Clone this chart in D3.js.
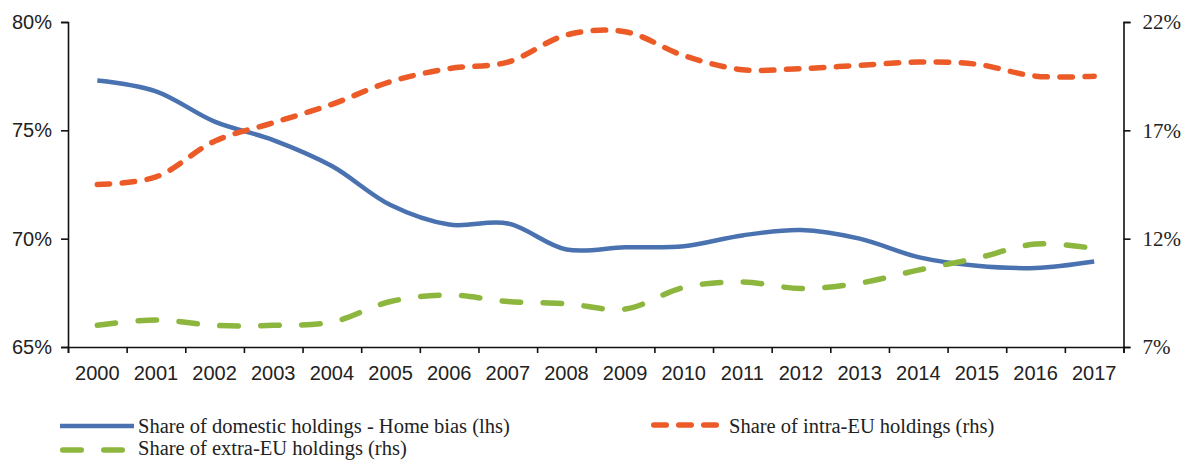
<!DOCTYPE html>
<html>
<head>
<meta charset="utf-8">
<script src="https://cdn.jsdelivr.net/npm/d3@7"></script>
<style>
  html, body { margin: 0; padding: 0; background: #fff; }
  svg { display: block; }
</style>
</head>
<body>
<svg id="chart" width="1185" height="460"></svg>
<script>
// ---- data ----
const years = ["2000","2001","2002","2003","2004","2005","2006","2007","2008","2009","2010","2011","2012","2013","2014","2015","2016","2017"];
const homeBias = [77.3, 76.8, 75.4, 74.55, 73.35, 71.55, 70.65, 70.7, 69.5, 69.6, 69.65, 70.15, 70.4, 70.0, 69.15, 68.75, 68.65, 68.95];
const intraEU  = [14.5, 14.85, 16.5, 17.35, 18.2, 19.25, 19.85, 20.15, 21.4, 21.55, 20.45, 19.8, 19.85, 20.0, 20.15, 20.05, 19.5, 19.5];
const extraEU  = [8.0, 8.25, 8.0, 8.0, 8.15, 9.1, 9.4, 9.1, 9.0, 8.75, 9.75, 10.0, 9.7, 9.95, 10.55, 11.1, 11.75, 11.55];
const leftTicks = [65, 70, 75, 80];
const rightTicks = [7, 12, 17, 22];
const legendLabels = [
  "Share of domestic holdings - Home bias (lhs)",
  "Share of intra-EU holdings (rhs)",
  "Share of extra-EU holdings (rhs)"
];

// ---- layout ----
const L = 68, R = 1123.5, T = 22, B = 347;
const svg = d3.select("#chart");

const x = d3.scaleBand().domain(years).range([L, R]).padding(0);
const xEdge = d3.scaleLinear().domain([0, years.length]).range([L, R]);
const yL = d3.scaleLinear().domain([65, 80]).range([B, T]);
const yR = d3.scaleLinear().domain([7, 22]).range([B, T]);

const sansFont = "'Liberation Sans', Arial, sans-serif";
const serifFont = "'Liberation Serif', 'Times New Roman', serif";

// left axis
const gL = svg.append("g").attr("transform", `translate(${L},0)`)
  .call(d3.axisLeft(yL).tickValues(leftTicks).tickSize(7).tickPadding(9).tickFormat(d => d + "%"));
gL.selectAll("text").attr("font-family", sansFont).attr("font-size", 20).attr("fill", "#222");

// right axis
const gR = svg.append("g").attr("transform", `translate(${R},0)`)
  .call(d3.axisRight(yR).tickValues(rightTicks).tickSize(7).tickPadding(12).tickFormat(d => d + "%"));
gR.selectAll("text").attr("font-family", serifFont).attr("font-size", 21).attr("fill", "#222");

// bottom axis: boundary ticks
const gB = svg.append("g").attr("transform", `translate(0,${B})`)
  .call(d3.axisBottom(xEdge).tickValues(d3.range(years.length + 1)).tickSize(6).tickFormat(""));
// bottom axis: category labels
const gBL = svg.append("g").attr("transform", `translate(0,${B})`)
  .call(d3.axisBottom(x).tickSize(0).tickPadding(0));
gBL.select(".domain").remove();
gBL.selectAll("text").attr("font-family", sansFont).attr("font-size", 20).attr("fill", "#222")
  .attr("y", 33).attr("dy", null);

svg.selectAll(".domain").attr("stroke", "#111").attr("stroke-width", 1.6);
svg.selectAll(".tick line").attr("stroke", "#111").attr("stroke-width", 1.6);

// ---- lines ----
const cx = d => x(d) + x.bandwidth() / 2;
const curve = d3.curveCatmullRom.alpha(0.5);

const lineL = d3.line().x((d, i) => cx(years[i])).y(d => yL(d)).curve(curve);
const lineR = d3.line().x((d, i) => cx(years[i])).y(d => yR(d)).curve(curve);

const blue = "#4A72B0", orange = "#EC5A27", green = "#8DB63E";

svg.append("path").datum(homeBias).attr("d", lineL)
  .attr("fill", "none").attr("stroke", blue).attr("stroke-width", 4.5)
  .attr("stroke-linejoin", "round");

svg.append("path").datum(intraEU).attr("d", lineR)
  .attr("fill", "none").attr("stroke", orange).attr("stroke-width", 5.5)
  .attr("stroke-linecap", "round").attr("stroke-dasharray", "12.5,12.5");

svg.append("path").datum(extraEU).attr("d", lineR)
  .attr("fill", "none").attr("stroke", green).attr("stroke-width", 5.5)
  .attr("stroke-linecap", "round").attr("stroke-dasharray", "18.5,22.5");

// ---- legend ----
const leg = svg.append("g");
leg.append("line").attr("x1", 60).attr("x2", 134).attr("y1", 426).attr("y2", 426)
  .attr("stroke", blue).attr("stroke-width", 4.5);
leg.append("text").attr("x", 138).attr("y", 433).text(legendLabels[0]);

leg.append("line").attr("x1", 653.75).attr("x2", 716.25).attr("y1", 425).attr("y2", 425)
  .attr("stroke", orange).attr("stroke-width", 5.5).attr("stroke-linecap", "round")
  .attr("stroke-dasharray", "12.5,12.5");
leg.append("text").attr("x", 729).attr("y", 433).text(legendLabels[1]);

leg.append("line").attr("x1", 62.75).attr("x2", 124.25).attr("y1", 450).attr("y2", 450)
  .attr("stroke", green).attr("stroke-width", 5.5).attr("stroke-linecap", "round")
  .attr("stroke-dasharray", "18.5,22.5");
leg.append("text").attr("x", 138).attr("y", 455).text(legendLabels[2]);

leg.selectAll("text").attr("font-family", serifFont).attr("font-size", 20.5).attr("fill", "#222");
</script>
</body>
</html>
